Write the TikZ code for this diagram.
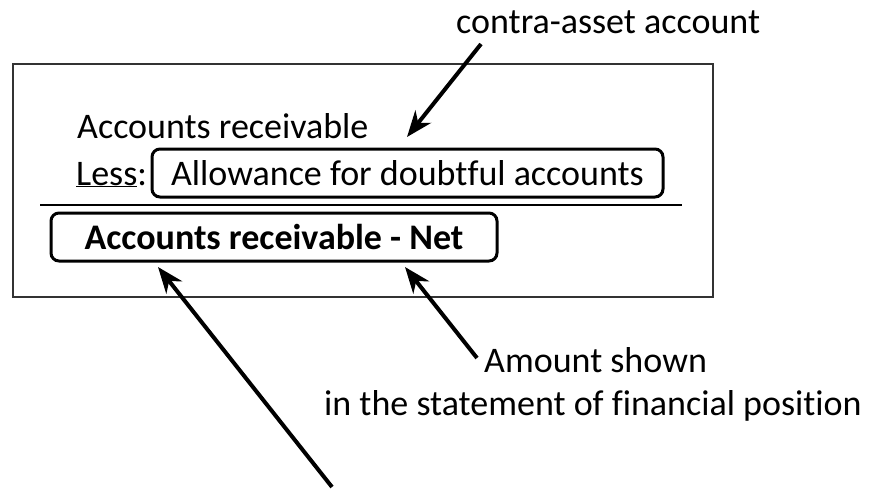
\documentclass[tikz,border=0pt]{standalone}
\usepackage{fontspec}
\setmainfont{Carlito}[Ligatures=NoCommon]
\usetikzlibrary{arrows.meta}
\begin{document}
\begin{tikzpicture}[x=1pt,y=-1pt,
  txt/.style={font=\fontsize{36}{43}\selectfont, inner sep=0pt, anchor=base west},
  rbox/.style={draw, line width=3pt, rounded corners=8pt, inner sep=0pt,
    font=\fontsize{36}{43}\selectfont},
  pointer/.style={line width=4pt, -{Stealth[length=26pt,width=20pt,inset=8pt]}}
]
\useasboundingbox (0,0) rectangle (875,491);
\draw[line width=1.5pt, black!80] (13,64) rectangle (713,297);
\node[txt] (ar) at (77,138) {Accounts receivable};
\node[txt] (less) at (76,185) {\underline{Less}:};
\node[rbox, minimum width=511pt, minimum height=48pt] (allow) at (407.5,173) {Allowance for doubtful accounts};
\draw[line width=2pt] (40,205) -- (682,205);
\node[rbox, minimum width=446pt, minimum height=48pt, font=\fontsize{36}{43}\selectfont\bfseries] (net) at (274,237) {Accounts receivable - Net};
\node[txt] (contra) at (456,33) {contra-asset account};
\node[txt] (amount1) at (484,372) {Amount shown};
\node[txt] (amount2) at (324,415) {in the statement of financial position};
\coordinate (c1s) at (481,44);
\coordinate (c1t) at (407,137);
\coordinate (c2s) at (477,358);
\coordinate (c2t) at (405,267);
\coordinate (c3s) at (332,487);
\coordinate (c3t) at (158,267);
\draw[pointer] (c1s) -- (c1t);
\draw[pointer] (c2s) -- (c2t);
\draw[pointer] (c3s) -- (c3t);
\end{tikzpicture}
\end{document}
